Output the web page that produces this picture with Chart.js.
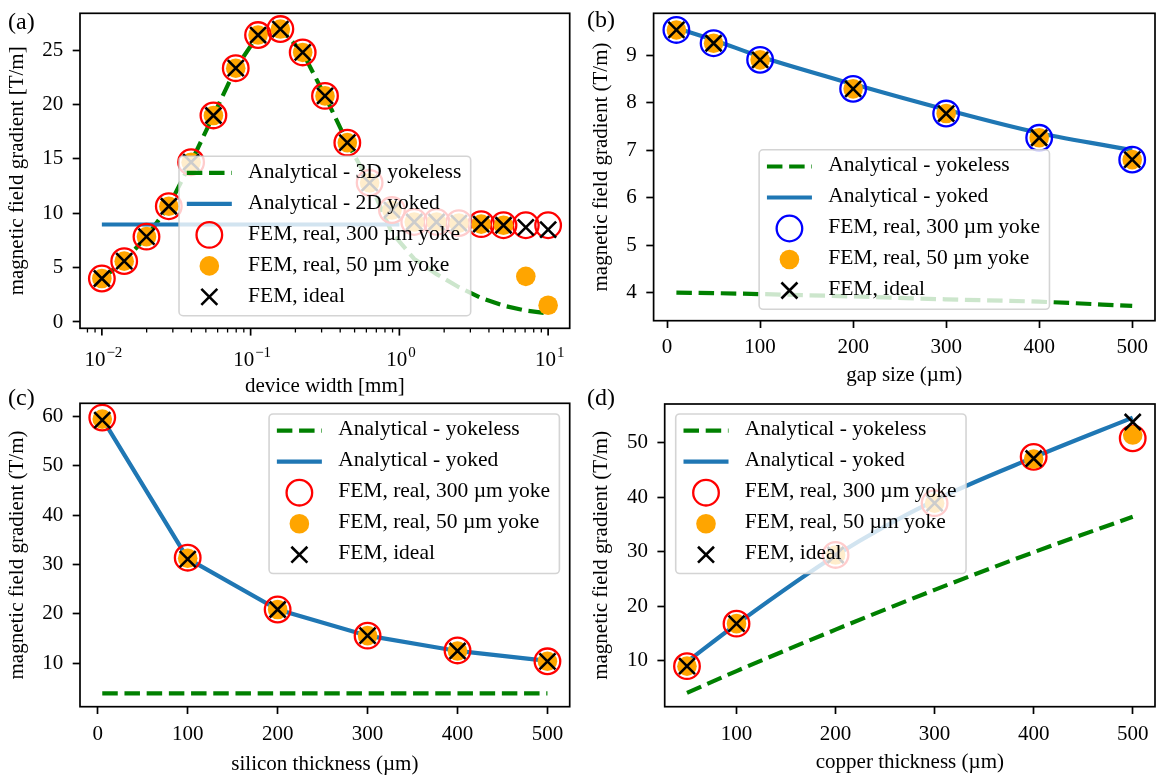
<!DOCTYPE html>
<html><head><meta charset="utf-8">
<script src="https://cdn.jsdelivr.net/npm/chart.js@4/dist/chart.umd.min.js"></script>
<style>
html,body{margin:0;padding:0;background:#fff;}
#page{position:relative;width:1157px;height:779px;overflow:hidden;background:#fff;}
canvas{position:absolute;}
.plabel{position:absolute;font-family:"Liberation Serif","Times New Roman",serif;font-size:24px;line-height:24px;color:#000;white-space:nowrap;}
</style></head><body>
<div id="page">
<canvas id="cA" width="578" height="410" style="left:0px;top:0px"></canvas>
<canvas id="cB" width="579" height="410" style="left:578px;top:0px"></canvas>
<canvas id="cC" width="578" height="389" style="left:0px;top:390px"></canvas>
<canvas id="cD" width="579" height="389" style="left:578px;top:390px"></canvas>
<div class="plabel" style="left:8px;top:9px">(a)</div>
<div class="plabel" style="left:587px;top:7px">(b)</div>
<div class="plabel" style="left:8px;top:385px">(c)</div>
<div class="plabel" style="left:587px;top:385px">(d)</div>
</div>
<script>
// ---------------- DATA ----------------
// (a) device width sweep (mm)
const widthA = [0.01, 0.01413, 0.01995, 0.02818, 0.03981, 0.05623, 0.07943, 0.1122, 0.1585, 0.2239, 0.3162, 0.4467, 0.6310, 0.8913, 1.259, 1.778, 2.512, 3.548, 5.012, 7.079, 10];
const yokeless3dA = [4.0, 5.6, 7.85, 10.65, 14.7, 19.0, 23.35, 26.4, 26.95, 24.8, 20.8, 16.5, 12.8, 8.2, 5.8, 4.4, 3.2, 2.2, 1.5, 1.05, 0.78];
const yoked2dWidthA = [0.01, 1.0];
const yoked2dA = [8.97, 8.97];
const fem300A = [4.0, 5.6, 7.85, 10.65, 14.7, 19.0, 23.35, 26.4, 26.95, 24.8, 20.8, 16.5, 12.8, 10.3, 9.2, 9.2, 9.1, 9.0, 8.9, 8.9, 8.9];
const fem50A = [4.0, 5.6, 7.85, 10.65, 14.7, 19.0, 23.35, 26.4, 26.95, 24.8, 20.8, 16.5, 12.8, 10.3, 9.2, 9.2, 9.1, 9.0, 8.9, 4.2, 1.54];
const femIdealA = [4.0, 5.6, 7.85, 10.65, 14.7, 19.0, 23.35, 26.4, 26.95, 24.8, 20.8, 16.5, 12.8, 10.3, 9.2, 9.2, 9.1, 9.0, 8.9, 8.7, 8.5];
const yTicksA = [0, 5, 10, 15, 20, 25];
const xMajorA = [0.01, 0.1, 1, 10];
const xMajorExpA = ['\u22122', '\u22121', '0', '1'];
const xMinorA = [0.008, 0.009, 0.02, 0.03, 0.04, 0.05, 0.06, 0.07, 0.08, 0.09, 0.2, 0.3, 0.4, 0.5, 0.6, 0.7, 0.8, 0.9, 2, 3, 4, 5, 6, 7, 8, 9];

// (b) gap size sweep (µm)
const gapB = [10, 50, 100, 200, 300, 400, 500];
const yokelessB = [4.00, 3.99, 3.97, 3.92, 3.86, 3.81, 3.72];
const yokedB = [9.57, 9.32, 8.97, 8.39, 7.85, 7.36, 7.00];
const fem300B = [9.53, 9.25, 8.90, 8.29, 7.77, 7.26, 6.80];
const fem50B = [9.53, 9.25, 8.90, 8.29, 7.77, 7.26, 6.80];
const femIdealB = [9.53, 9.25, 8.90, 8.29, 7.77, 7.26, 6.80];
const yTicksB = [4, 5, 6, 7, 8, 9];
const xTicksB = [0, 100, 200, 300, 400, 500];

// (c) silicon thickness sweep (µm)
const siC = [5, 100, 200, 300, 400, 500];
const yokelessC = [3.9, 3.9, 3.9, 3.9, 3.9, 3.9];
const yokedC = [59.6, 31.2, 20.9, 15.6, 12.5, 10.5];
const fem300C = [59.8, 31.4, 20.9, 15.6, 12.6, 10.4];
const fem50C = [59.5, 31.3, 20.9, 15.6, 12.5, 10.4];
const femIdealC = [59.3, 31.1, 20.9, 15.6, 12.5, 10.4];
const yTicksC = [10, 20, 30, 40, 50, 60];
const xTicksC = [0, 100, 200, 300, 400, 500];

// (d) copper thickness sweep (µm)
const cuD = [50, 100, 200, 300, 400, 500];
const yokelessD = [4.1, 8.1, 15.7, 23.0, 29.9, 36.4];
const yokedD = [9.8, 16.7, 29.3, 39.4, 47.3, 54.6];
const fem300D = [9.0, 16.8, 29.4, 38.9, 47.4, 50.8];
const fem50D = [9.0, 16.8, 29.4, 38.9, 47.0, 51.4];
const femIdealD = [9.0, 16.8, 29.4, 38.9, 47.1, 53.8];
const yTicksD = [10, 20, 30, 40, 50];
const xTicksD = [100, 200, 300, 400, 500];

// ---------------- STYLE ----------------
const FONT = '"Liberation Serif", "Times New Roman", serif';
const FS = 21;
const LEG_FS = 21.5;
const GREEN = '#008000', BLUE = '#1f77b4', RED = '#ff0000', ORANGE = '#ffa500', PURE_BLUE = '#0000ff';
const LW = 4.2, DASH = [15.5, 6.7];

function pts(xs, ys) { return xs.map((x, i) => ({ x: x, y: ys[i] })); }

function lineDS(label, xs, ys, color, dash, order, smooth) {
  return { type: 'line', label: label, data: pts(xs, ys), borderColor: color, backgroundColor: color,
    borderWidth: LW, borderDash: dash, borderCapStyle: 'butt', pointRadius: 0, pointHoverRadius: 0,
    fill: false, tension: 0, cubicInterpolationMode: smooth ? 'monotone' : 'default', order: order };
}
function ringDS(label, xs, ys, color) {
  return { type: 'scatter', label: label, data: pts(xs, ys), pointStyle: 'circle', pointRadius: 12.8,
    pointHoverRadius: 12.8, borderWidth: 2.3, borderColor: color, backgroundColor: 'rgba(0,0,0,0)', order: 2, clip: false };
}
function dotDS(label, xs, ys) {
  return { type: 'scatter', label: label, data: pts(xs, ys), pointStyle: 'circle', pointRadius: 9.8,
    pointHoverRadius: 9.8, borderWidth: 0, borderColor: ORANGE, backgroundColor: ORANGE, order: 1, clip: false };
}
function crossDS(label, xs, ys) {
  return { type: 'scatter', label: label, data: pts(xs, ys), pointStyle: 'crossRot', pointRadius: 11.3,
    pointHoverRadius: 11.3, borderWidth: 2.6, borderColor: '#000', backgroundColor: '#000', order: 0, clip: false };
}

function roundRect(ctx, x, y, w, h, r) {
  ctx.beginPath();
  ctx.moveTo(x + r, y); ctx.lineTo(x + w - r, y); ctx.arcTo(x + w, y, x + w, y + r, r);
  ctx.lineTo(x + w, y + h - r); ctx.arcTo(x + w, y + h, x + w - r, y + h, r);
  ctx.lineTo(x + r, y + h); ctx.arcTo(x, y + h, x, y + h - r, r);
  ctx.lineTo(x, y + r); ctx.arcTo(x, y, x + r, y, r); ctx.closePath();
}

function drawLegend(chart, L) {
  const ctx = chart.ctx, ca = chart.chartArea;
  ctx.save();
  ctx.font = LEG_FS + 'px ' + FONT;
  const dss = chart.data.datasets;
  let maxW = 0;
  dss.forEach(d => { maxW = Math.max(maxW, ctx.measureText(d.label).width); });
  const padL = 7.8, handleW = 45, gap = 16.3, padR = 9.4, rowTop = 16.7, rowH = 31, boxH = 159.5;
  const boxW = padL + handleW + gap + maxW + padR;
  let bx, by;
  if (L.loc === 'lower center') { bx = (ca.left + ca.right) / 2 - boxW / 2; by = ca.bottom - L.pad - boxH; }
  else if (L.loc === 'upper right') { bx = ca.right - L.pad - boxW; by = ca.top + L.padTop; }
  else { bx = ca.left + L.pad; by = ca.top + L.padTop; }
  roundRect(ctx, bx, by, boxW, boxH, 4);
  ctx.fillStyle = 'rgba(255,255,255,0.8)'; ctx.fill();
  ctx.lineWidth = 1.6; ctx.strokeStyle = 'rgba(204,204,204,0.85)'; ctx.stroke();
  dss.forEach((d, i) => {
    const cy = by + rowTop + i * rowH;
    const hx0 = bx + padL, hx1 = hx0 + handleW, cx = (hx0 + hx1) / 2;
    ctx.save();
    if (d.pointRadius === 0) {
      ctx.beginPath(); ctx.setLineDash(d.borderDash || []); ctx.lineCap = 'butt';
      ctx.lineWidth = d.borderWidth; ctx.strokeStyle = d.borderColor;
      ctx.moveTo(hx0, cy); ctx.lineTo(hx1, cy); ctx.stroke();
    } else if (d.pointStyle === 'crossRot') {
      const q = d.pointRadius * Math.SQRT1_2;
      ctx.beginPath(); ctx.lineWidth = d.borderWidth; ctx.strokeStyle = d.borderColor;
      ctx.moveTo(cx - q, cy - q); ctx.lineTo(cx + q, cy + q);
      ctx.moveTo(cx - q, cy + q); ctx.lineTo(cx + q, cy - q); ctx.stroke();
    } else {
      ctx.beginPath(); ctx.arc(cx, cy, d.pointRadius, 0, Math.PI * 2);
      ctx.fillStyle = d.backgroundColor; ctx.fill();
      if (d.borderWidth > 0) { ctx.lineWidth = d.borderWidth; ctx.strokeStyle = d.borderColor; ctx.stroke(); }
    }
    ctx.restore();
    ctx.fillStyle = '#000'; ctx.textBaseline = 'middle'; ctx.textAlign = 'left';
    ctx.fillText(d.label, hx1 + gap, cy - 1);
  });
  ctx.restore();
}

function decor(spec) {
  return {
    id: 'decor' + spec.key,
    afterDatasetsDraw(chart) {
      const ctx = chart.ctx, ca = chart.chartArea;
      ctx.save();
      ctx.strokeStyle = '#000'; ctx.lineWidth = 1.7;
      ctx.strokeRect(ca.left, ca.top, ca.right - ca.left, ca.bottom - ca.top);
      if (spec.logTicks) {
        const xs = chart.scales.x;
        ctx.lineWidth = 1.7;
        spec.logTicks.majors.forEach((v, i) => {
          const px = xs.getPixelForValue(v);
          ctx.beginPath(); ctx.moveTo(px, ca.bottom); ctx.lineTo(px, ca.bottom + 7.3); ctx.stroke();
          ctx.font = FS + 'px ' + FONT;
          const w1 = ctx.measureText('10').width;
          ctx.font = '15px ' + FONT;
          const e = spec.logTicks.exps[i];
          const w2 = ctx.measureText(e).width;
          const x0 = px - (w1 + w2) / 2 + 1;
          const base = ca.bottom + 37.4;
          ctx.fillStyle = '#000'; ctx.textBaseline = 'alphabetic'; ctx.textAlign = 'left';
          ctx.font = FS + 'px ' + FONT; ctx.fillText('10', x0, base);
          ctx.font = '15px ' + FONT; ctx.fillText(e, x0 + w1 + 1, base - 9);
        });
        ctx.lineWidth = 1.3;
        spec.logTicks.minors.forEach(v => {
          const px = xs.getPixelForValue(v);
          ctx.beginPath(); ctx.moveTo(px, ca.bottom); ctx.lineTo(px, ca.bottom + 4.2); ctx.stroke();
        });
      }
      ctx.restore();
      drawLegend(chart, spec.legend);
    }
  };
}

function axisFont() { return { family: FONT, size: FS }; }

function linAxis(o) {
  return {
    type: o.type || 'linear', min: o.min, max: o.max,
    afterBuildTicks: s => { if (o.ticks) s.ticks = o.ticks.map(v => ({ value: v })); },
    afterFit: s => {
      if (o.width !== undefined) s.width = o.width;
      if (o.height !== undefined) s.height = o.height;
      s.paddingLeft = 0; s.paddingRight = 0; s.paddingTop = 0; s.paddingBottom = 0;
    },
    grid: { display: !o.noTicks, drawOnChartArea: false, drawTicks: true, tickLength: 7.3, tickWidth: 1.7, tickColor: '#000' },
    border: { display: false },
    ticks: { display: !o.noTicks, font: axisFont(), color: '#000', padding: o.pad, maxRotation: 0, autoSkip: false,
      callback: v => String(v) },
    title: { display: true, text: o.title, font: axisFont(), color: '#000', padding: o.titlePad }
  };
}

function makeChart(id, key, datasets, xo, yo, padding, legend, logTicks) {
  return new Chart(document.getElementById(id), {
    data: { datasets: datasets },
    options: {
      responsive: false, animation: false, devicePixelRatio: 1,
      layout: { padding: padding, autoPadding: false },
      plugins: { legend: { display: false }, tooltip: { enabled: false } },
      events: [],
      scales: { x: linAxis(xo), y: linAxis(yo) }
    },
    plugins: [decor({ key: key, legend: legend, logTicks: logTicks })]
  });
}

const yLabelBr = 'magnetic field gradient [T/m]';
const yLabel = 'magnetic field gradient (T/m)';

// (a)
makeChart('cA', 'A', [
  lineDS('Analytical - 3D yokeless', widthA, yokeless3dA, GREEN, DASH, 4, false),
  lineDS('Analytical - 2D yoked', yoked2dWidthA, yoked2dA, BLUE, [], 3, false),
  ringDS('FEM, real, 300 \u00b5m yoke', widthA, fem300A, RED),
  dotDS('FEM, real, 50 \u00b5m yoke', widthA, fem50A),
  crossDS('FEM, ideal', widthA, femIdealA)
],
{ type: 'logarithmic', min: Math.pow(10, -2.147), max: Math.pow(10, 1.145), ticks: xMajorA, noTicks: true, height: 81.7,
  title: 'device width [mm]', titlePad: { top: 0, bottom: 11.4 } },
{ min: -0.58, max: 28.4, ticks: yTicksA, width: 80, pad: 9.5, title: yLabelBr, titlePad: { top: 5.1, bottom: 0 } },
{ left: 0, top: 13.3, right: 8.3, bottom: 0 },
{ loc: 'lower center', pad: 12.6 },
{ majors: xMajorA, exps: xMajorExpA, minors: xMinorA });

// (b)
makeChart('cB', 'B', [
  lineDS('Analytical - yokeless', gapB, yokelessB, GREEN, DASH, 4, true),
  lineDS('Analytical - yoked', gapB, yokedB, BLUE, [], 3, true),
  ringDS('FEM, real, 300 \u00b5m yoke', gapB, fem300B, PURE_BLUE),
  dotDS('FEM, real, 50 \u00b5m yoke', gapB, fem50B),
  crossDS('FEM, ideal', gapB, femIdealB)
],
{ min: -14.5, max: 524.5, ticks: xTicksB, height: 89.3, pad: 6.5, title: 'gap size (\u00b5m)', titlePad: { top: 0, bottom: 22 } },
{ min: 3.41, max: 9.88, ticks: yTicksB, width: 75.6, pad: 9.5, title: yLabel, titlePad: { top: 10.9, bottom: 0 } },
{ left: 0, top: 13.3, right: 2, bottom: 0 },
{ loc: 'lower center', pad: 11.4 });

// (c)
makeChart('cC', 'C', [
  lineDS('Analytical - yokeless', siC, yokelessC, GREEN, DASH, 4, false),
  lineDS('Analytical - yoked', siC, yokedC, BLUE, [], 3, false),
  ringDS('FEM, real, 300 \u00b5m yoke', siC, fem300C, RED),
  dotDS('FEM, real, 50 \u00b5m yoke', siC, fem50C),
  crossDS('FEM, ideal', siC, femIdealC)
],
{ min: -19.75, max: 524.75, ticks: xTicksC, height: 72.3, pad: 7.8, title: 'silicon thickness (\u00b5m)', titlePad: { top: 0, bottom: 2.4 } },
{ min: 1.2, max: 62.7, ticks: yTicksC, width: 80, pad: 9.5, title: yLabel, titlePad: { top: 5.1, bottom: 0 } },
{ left: 0, top: 13.3, right: 8.3, bottom: 0 },
{ loc: 'upper right', pad: 10.3, padTop: 10.7 });

// (d)
makeChart('cD', 'D', [
  lineDS('Analytical - yokeless', cuD, yokelessD, GREEN, DASH, 4, true),
  lineDS('Analytical - yoked', cuD, yokedD, BLUE, [], 3, true),
  ringDS('FEM, real, 300 \u00b5m yoke', cuD, fem300D, RED),
  dotDS('FEM, real, 50 \u00b5m yoke', cuD, fem50D),
  crossDS('FEM, ideal', cuD, femIdealD)
],
{ min: 27.5, max: 522.5, ticks: xTicksD, height: 72.3, pad: 7.8, title: 'copper thickness (\u00b5m)', titlePad: { top: 0, bottom: 4.4 } },
{ min: 1.56, max: 57.1, ticks: yTicksD, width: 86.7, pad: 9.5, title: yLabel, titlePad: { top: 10.9, bottom: 0 } },
{ left: 0, top: 14, right: 2, bottom: 0 },
{ loc: 'upper left', pad: 11, padTop: 10 });
</script>
</body></html>
